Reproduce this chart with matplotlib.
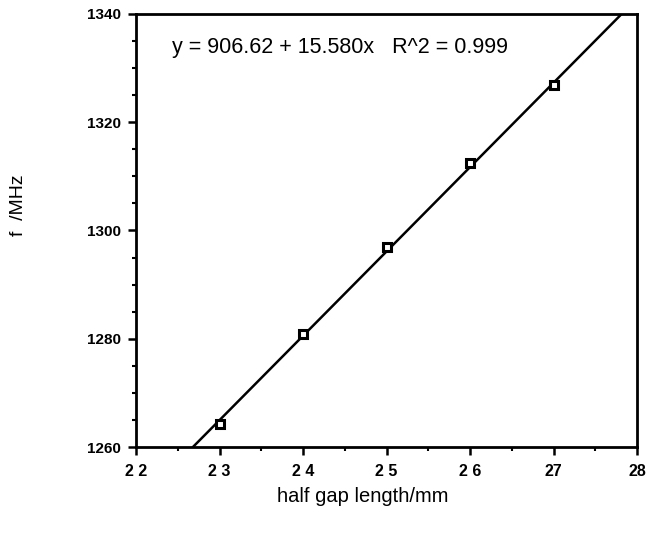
import matplotlib
matplotlib.use("Agg")
from matplotlib import pyplot as plt
from matplotlib.ticker import MultipleLocator
import numpy as np

plt.rcParams['font.family'] = ['Liberation Sans', 'DejaVu Sans']

# measured points
gap_mm = [23, 24, 25, 26, 27]
freq_mhz = [1264.2, 1280.9, 1296.9, 1312.4, 1326.8]

# linear fit quoted on the plot
intercept = 906.62
slope = 15.580
r2 = 0.999

xticks = [22, 23, 24, 25, 26, 27, 28]
xtick_labels = ["2 2", "2 3", "2 4", "2 5", "2 6", "27", "28"]
yticks = [1260, 1280, 1300, 1320, 1340]

fig = plt.figure(figsize=(6.52, 5.36), dpi=100)
ax = fig.add_axes([0.2086, 0.166, 0.7684, 0.808])

xl = np.array([22, 28])
ax.plot(xl, intercept + slope * xl, color='black', lw=1.8, zorder=2)
ax.plot(gap_mm, freq_mhz, 's', ms=6, mfc='white', mec='black', mew=2.2, zorder=3)

ax.set_xlim(22, 28)
ax.set_ylim(1260, 1340)
ax.set_xticks(xticks)
ax.set_xticklabels(xtick_labels, fontweight='bold', fontsize=11.5)
ax.set_yticks(yticks)
ax.set_yticklabels([str(v) for v in yticks], fontsize=11, fontweight='bold')
ax.xaxis.set_minor_locator(MultipleLocator(0.5))
ax.yaxis.set_minor_locator(MultipleLocator(5))
ax.tick_params(which='major', direction='out', length=6, width=1.8, pad=5)
ax.tick_params(axis='x', which='major', pad=6)
ax.tick_params(which='minor', direction='out', length=3, width=1.5)
for s in ax.spines.values():
    s.set_linewidth(2)

fig.text(0.264, 0.912, f"y = {intercept:.2f} + {slope:.3f}x   R^2 = {r2:.3f}",
         fontsize=15.5, va='center', ha='left')
fig.text(0.557, 0.073, "half gap length/mm", fontsize=14.5, ha='center', va='center')
fig.text(0.028, 0.617, "f  /MHz", fontsize=14, rotation=90, ha='center', va='center')

fig.savefig("out.png", dpi=100)
